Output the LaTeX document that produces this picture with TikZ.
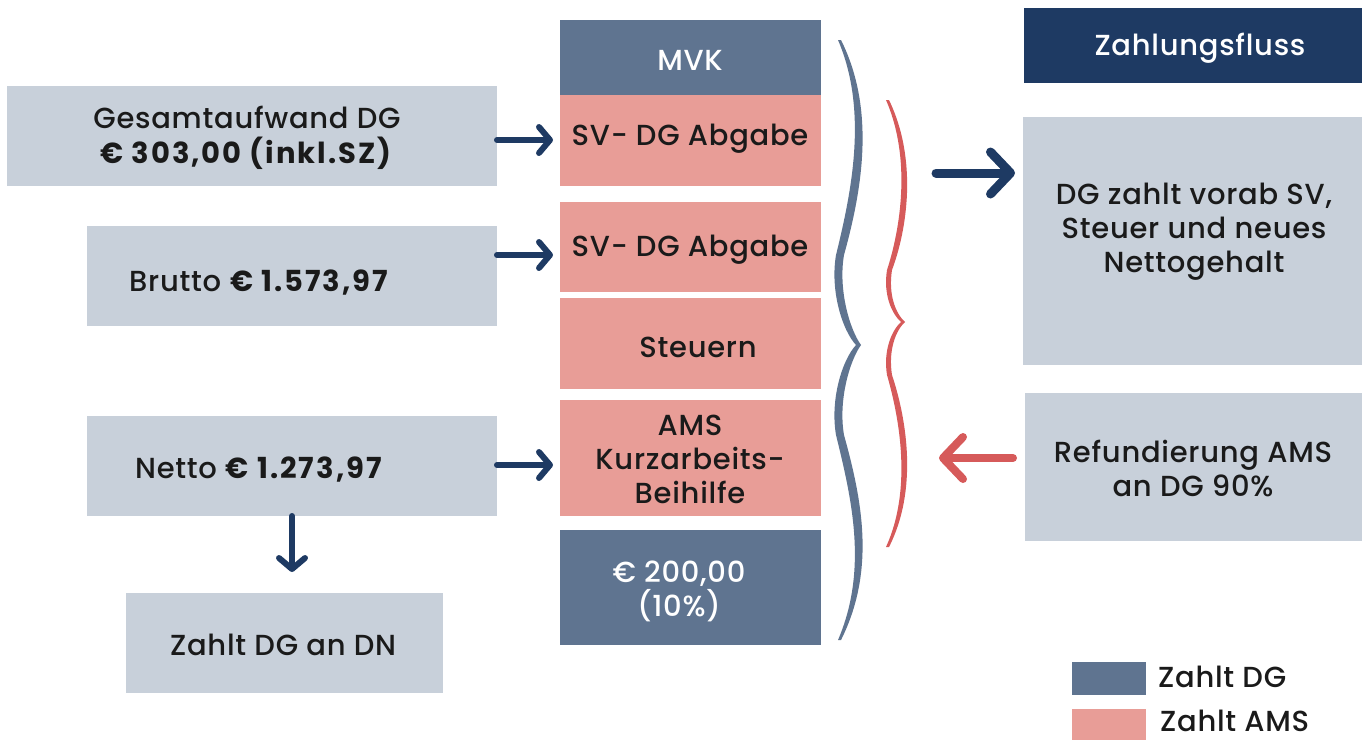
\documentclass[tikz,border=0pt]{standalone}
\usepackage{fontspec}
\setmainfont{Poppins}[UprightFont=* Medium, UprightFeatures={LetterSpace=2.5}, BoldFont=* Bold, BoldFeatures={LetterSpace=7}]
\usetikzlibrary{arrows.meta,calc}
\definecolor{lbox}{HTML}{C8D0DA}
\definecolor{dbox}{HTML}{5F7490}
\definecolor{pbox}{HTML}{E89D97}
\definecolor{navy}{HTML}{1E3A63}
\definecolor{redarr}{HTML}{D65A5A}
\definecolor{txt}{HTML}{1A1A1A}
\begin{document}
\begin{tikzpicture}[x=1pt,y=-1pt,
  txtsize/.style={font=\fontsize{29}{34}\selectfont},
  rbox/.style={anchor=north west, inner sep=0pt, outer sep=0pt, align=center, text=txt, txtsize},
  lightbox/.style={rbox, fill=lbox},
  darkbox/.style={rbox, fill=dbox, text=white},
  pinkbox/.style={rbox, fill=pbox},
  navybox/.style={rbox, fill=navy, text=white},
  lbl/.style={inner sep=0pt, text=txt, txtsize, align=center},
  arr/.style={draw=navy, line width=6pt, line cap=round, -{Straight Barb[round, length=11pt, width=26pt]}},
  bigarr/.style={line width=9pt, line cap=round, -{Straight Barb[round, length=20pt, width=42pt]}},
]
\useasboundingbox (0,0) rectangle (1367,740);

% left boxes
\node[lightbox, minimum width=490pt, minimum height=100pt] (g) at (7,86) {};
\node[lbl] (gt) at (247,138) {Gesamtaufwand DG\\[1pt]\textbf{€ 303,00 (inkl.SZ)}};
\node[lightbox, minimum width=410pt, minimum height=100pt] (b) at (87,226) {};
\node[lbl, anchor=west] (bt) at (129,283) {Brutto \textbf{€ 1.573,97}};
\node[lightbox, minimum width=410pt, minimum height=100pt] (n) at (87,416) {};
\node[lbl, anchor=west] (nt) at (135,470) {Netto \textbf{€ 1.273,97}};
\node[lightbox, minimum width=317pt, minimum height=100pt] (z) at (126,593) {};
\node[lbl, anchor=west] (zt) at (170,645) {Zahlt DG an DN};

% middle column
\node[darkbox, minimum width=261pt, minimum height=75pt] (mvk) at (560,20) {};
\node[lbl, text=white] (mvkt) at (690,60) {MVK};
\node[pinkbox, minimum width=261pt, minimum height=91pt] (sv1) at (560,95) {};
\node[lbl] (sv1t) at (690,139) {SV- DG Abgabe};
\node[pinkbox, minimum width=261pt, minimum height=90pt] (sv2) at (560,202) {};
\node[lbl] (sv2t) at (690,250) {SV- DG Abgabe};
\node[pinkbox, minimum width=261pt, minimum height=91pt] (st) at (560,298) {};
\node[lbl] (stt) at (698,347) {Steuern};
\node[pinkbox, minimum width=261pt, minimum height=116pt] (ams) at (560,400) {};
\node[lbl] (amst) at (690,459) {AMS\\Kurzarbeits-\\Beihilfe};
\node[darkbox, minimum width=261pt, minimum height=115pt] (dg) at (560,530) {};
\node[lbl, text=white] (dgt) at (679,591) {€ 200,00\\(10\%)};

% right column
\node[navybox, minimum width=338pt, minimum height=75pt] (zf) at (1024,8) {};
\node[lbl, text=white] (zft) at (1200,48) {Zahlungsfluss};
\node[lightbox, minimum width=339pt, minimum height=248pt] (dz) at (1023,117) {};
\node[lbl] (dzt) at (1194,232) {DG zahlt vorab SV,\\Steuer und neues\\Nettogehalt};
\node[lightbox, minimum width=337pt, minimum height=148pt] (ref) at (1025,393) {};
\node[lbl] (reft) at (1193,468) {Refundierung AMS\\an DG 90\%};

% legend
\node[darkbox, minimum width=74pt, minimum height=33pt] (ldg) at (1072,662) {};
\node[lbl, anchor=west] (ldgt) at (1158,677) {Zahlt DG};
\node[lbl, anchor=west] (lamst) at (1160,721) {Zahlt AMS};
\node[pinkbox, minimum width=74pt, minimum height=31pt] (lams) at (1072,709) {};

% arrows
\coordinate (y1) at (0,140);
\coordinate (y2) at (0,255);
\coordinate (y3) at (0,465);
\draw[arr, shorten >=7pt] (g.east |- y1) -- (sv1.west |- y1);
\draw[arr, shorten >=7pt] (b.east |- y2) -- (sv2.west |- y2);
\draw[arr, shorten >=7pt] (n.east |- y3) -- (ams.west |- y3);
\draw[arr, shorten >=21pt] (n.south) -- (n.south |- z.north);

\coordinate (a4) at (936,173);
\draw[bigarr, draw=navy, shorten >=8pt] (a4) -- (a4 -| dz.west);
\coordinate (a5) at (939,458);
\draw[bigarr, draw=redarr, line width=8pt, shorten <=12pt] (a5 -| ref.west) -- (a5);

% braces
\fill[dbox] (838,40) .. controls (868,110) and (852,190) .. (836,255)
  .. controls (830,290) and (842,330) .. (856,345)
  .. controls (842,360) and (830,400) .. (836,435)
  .. controls (852,500) and (868,570) .. (838,640)
  -- (841,640)
  .. controls (876,570) and (862,500) .. (844,435)
  .. controls (838,400) and (850,360) .. (861,345)
  .. controls (850,330) and (838,290) .. (844,255)
  .. controls (862,190) and (876,110) .. (841,40) -- cycle;
\fill[redarr] (886,100) .. controls (912,160) and (900,230) .. (887,270)
  .. controls (883,295) and (892,314) .. (901,322)
  .. controls (892,330) and (883,350) .. (887,375)
  .. controls (900,420) and (912,490) .. (886,547)
  -- (889,547)
  .. controls (918,490) and (907,420) .. (892,375)
  .. controls (888,350) and (896,330) .. (905,322)
  .. controls (896,314) and (888,295) .. (892,270)
  .. controls (907,230) and (918,160) .. (889,100) -- cycle;
\end{tikzpicture}
\end{document}
